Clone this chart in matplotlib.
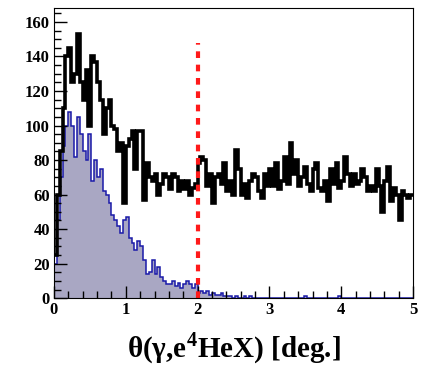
import numpy as np
import matplotlib
matplotlib.use("Agg")
import matplotlib.pyplot as plt
from matplotlib.ticker import MultipleLocator

plt.rcParams['font.family'] = ['Liberation Serif', 'DejaVu Serif']
plt.rcParams['font.weight'] = 'bold'
plt.rcParams['mathtext.fontset'] = 'custom'
plt.rcParams['mathtext.rm'] = 'Liberation Serif:bold'
plt.rcParams['mathtext.bf'] = 'Liberation Serif:bold'

# bin edges 0..5, width 0.04
edges = np.linspace(0, 5, 126)

data_counts = [25, 60, 85, 110, 140, 145, 125, 130, 153, 125,
               115, 132, 100, 140, 137, 125, 115, 95, 110, 115,
               100, 98, 85, 90, 55, 88, 92, 97, 75, 97,
               97, 57, 78, 70, 68, 72, 60, 66, 72, 70,
               63, 72, 70, 62, 68, 63, 68, 60, 64, 66,
               78, 82, 80, 65, 72, 55, 70, 72, 66, 78,
               62, 68, 60, 86, 75, 60, 66, 58, 68, 72,
               70, 62, 58, 72, 65, 75, 65, 78, 63, 68,
               82, 66, 90, 72, 80, 65, 70, 76, 66, 62,
               75, 78, 64, 62, 68, 56, 75, 66, 78, 64,
               68, 82, 72, 65, 72, 66, 68, 75, 70, 62,
               65, 62, 75, 65, 50, 68, 76, 56, 64, 60,
               45, 62, 60, 58, 60]

sim_counts = [20, 45, 70, 88, 100, 108, 100, 82, 105, 95,
              85, 80, 95, 68, 80, 70, 75, 62, 60, 55,
              48, 45, 42, 38, 45, 47, 35, 32, 28, 33,
              30, 22, 14, 15, 22, 14, 18, 12, 10, 8,
              8, 10, 7, 9, 6, 8, 10, 8, 6, 8,
              3, 4, 3, 4, 2, 3, 2, 2, 3, 1,
              1, 1, 0, 1, 0, 0, 1, 0, 1, 0,
              0, 0, 0, 0, 0, 0, 0, 0, 0, 0,
              0, 0, 0, 0, 0, 0, 0, 1, 0, 0,
              0, 0, 0, 0, 0, 0, 0, 0, 0, 1,
              0, 0, 0, 0, 0, 0, 0, 0, 0, 0,
              0, 0, 0, 0, 0, 0, 0, 0, 0, 0,
              0, 0, 0, 0, 0]

cut_x = 2.0
cut_top = 148

fig = plt.figure(figsize=(4.25, 3.69), dpi=100)
ax = fig.add_axes([0.127, 0.192, 0.845, 0.786])

ax.stairs(sim_counts, edges, fill=True, color='#a9a7c3')
ax.stairs(sim_counts, edges, color='#1a1aa8', linewidth=1.1, baseline=None)
ax.stairs(data_counts, edges, color='black', linewidth=2.6, baseline=None)
ax.plot([cut_x, cut_x], [0, cut_top], color='#ff1a1a', linewidth=3,
        linestyle=(0, (1.6, 1.6)))

ax.set_xlim(0, 5)
ax.set_ylim(0, 168)
ax.xaxis.set_major_locator(MultipleLocator(1))
ax.xaxis.set_minor_locator(MultipleLocator(0.2))
ax.yaxis.set_major_locator(MultipleLocator(20))
ax.yaxis.set_minor_locator(MultipleLocator(5))
ax.tick_params(which='both', direction='in', top=False, right=False,
               labelsize=12, width=1, pad=3)
ax.tick_params(which='major', length=9)
ax.tick_params(which='minor', length=5)
for lab in ax.get_xticklabels() + ax.get_yticklabels():
    lab.set_fontweight('bold')

ax.set_xlabel(r'θ(γ,e$^{4}$HeX) [deg.]', fontsize=21, fontweight='bold',
              labelpad=9)

fig.savefig('out.png', dpi=100)
